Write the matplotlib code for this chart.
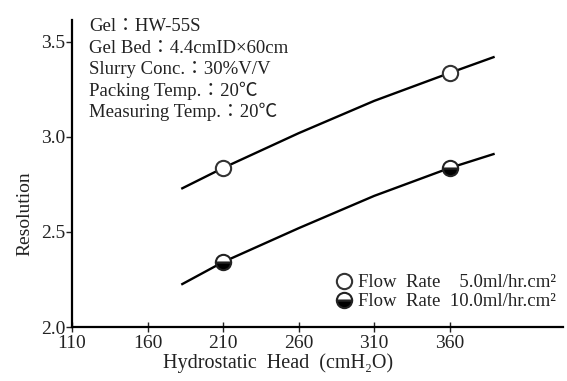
import matplotlib
matplotlib.use("Agg")
import matplotlib.pyplot as plt
from matplotlib.lines import Line2D

plt.rcParams['font.family'] = ['Liberation Serif', 'Noto Sans CJK JP', 'DejaVu Sans']

# measured points
x_pts = [210, 360]
res_5 = [2.837, 3.337]
res_10 = [2.342, 2.837]

# fitted curves
curve_x = [183, 210, 260, 310, 360, 389]
curve_5 = [2.73, 2.837, 3.02, 3.19, 3.337, 3.42]
curve_10 = [2.226, 2.342, 2.52, 2.69, 2.837, 2.91]

x_ticks = [110, 160, 210, 260, 310, 360]
y_ticks = [2.0, 2.5, 3.0, 3.5]

labels = ["Flow  Rate    5.0ml/hr.cm²", "Flow  Rate  10.0ml/hr.cm²"]
notes = ["Gel：HW-55S",
         "Gel Bed：4.4cmID×60cm",
         "Slurry Conc.：30%V/V",
         "Packing Temp.：20℃",
         "Measuring Temp.：20℃"]

fig = plt.figure(figsize=(5.67, 3.81), dpi=100)
ax = fig.add_axes([0.127, 0.1417, 0.866, 0.806])

ax.plot(curve_x, curve_5, color='black', lw=1.7, zorder=2)
ax.plot(curve_x, curve_10, color='black', lw=1.7, zorder=2)
ax.plot(x_pts, res_5, linestyle='none', marker='o', ms=11, mfc='white',
        mec='#333333', mew=1.5, zorder=3)
ax.plot(x_pts, res_10, linestyle='none', marker='o', ms=11, fillstyle='bottom',
        mfc='black', mfcalt='white', mec='#222222', mew=1.5, zorder=3)

ax.set_xlim(110, 435)
ax.set_ylim(2.0, 3.616)
ax.set_xticks(x_ticks)
ax.set_xticklabels([str(v) for v in x_ticks])
ax.set_yticks(y_ticks)
ax.set_yticklabels([f"{v:.1f}" for v in y_ticks])
for s in ['top', 'right']:
    ax.spines[s].set_visible(False)
for s in ['left', 'bottom']:
    ax.spines[s].set_linewidth(1.6)
ax.tick_params(axis='x', direction='inout', length=7, width=1.0, labelsize=14, pad=2, colors='#222222')
ax.tick_params(axis='y', direction='out', length=4, width=1.0, labelsize=14, pad=1, colors='#222222')

ax.set_xlabel("Hydrostatic  Head  (cmH₂O)", fontsize=14.5, labelpad=1, color='#222222', x=0.42)
ax.set_ylabel("Resolution", fontsize=14, labelpad=5, color='#222222', y=0.37)

for i, t in enumerate(notes):
    ax.text(0.035, 1.005 - i * 0.069, t, transform=ax.transAxes, fontsize=13.5,
            va='top', ha='left', color='#222222')

handles = [Line2D([], [], linestyle='none', marker='o', ms=11, mfc='white', mec='#333333', mew=1.5),
           Line2D([], [], linestyle='none', marker='o', ms=11, fillstyle='bottom',
                  mfc='black', mfcalt='white', mec='#222222', mew=1.5)]
ax.legend(handles, labels, loc='lower right', bbox_to_anchor=(1.0, 0.03), frameon=False,
          fontsize=13.5, handlelength=0.8, handletextpad=0.3, labelspacing=0.1,
          borderaxespad=0.0, labelcolor='#222222')

fig.savefig("out.png", dpi=100)
